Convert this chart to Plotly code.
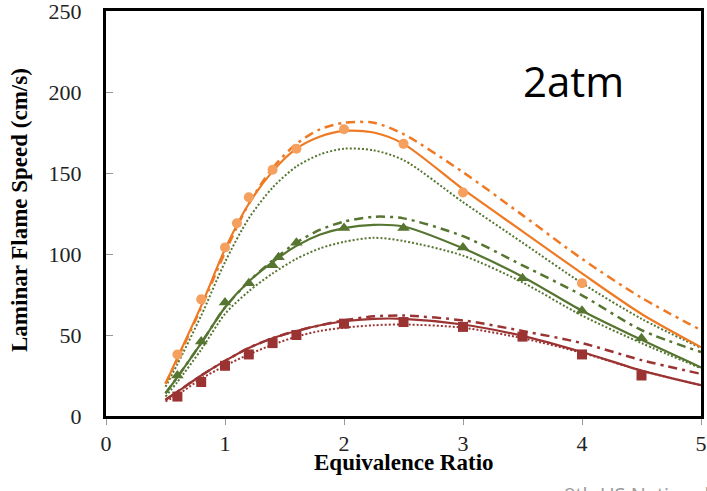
import plotly.graph_objects as go

# Equivalence ratio grid for the model curves
phi = [0.5, 0.6, 0.8, 1.0, 1.2, 1.4, 1.6, 1.8, 2.0, 2.25, 2.5, 3.0, 3.5, 4.0, 4.5, 5.0]

# Model predictions (cm/s)
orange_solid = [20, 36, 68, 103, 131, 151, 165, 172.5, 176, 175, 168, 140, 114, 88, 63, 42.5]
orange_dashdot = [20, 35, 67, 101, 131, 153, 168, 177, 181, 181, 174, 150.5, 124, 97, 73, 53]
green_dot_upper = [18, 32, 62, 95, 122, 141, 154, 161.5, 165, 164, 158, 132, 107, 82, 60, 42]

green_solid = [14, 24, 45, 67, 83, 95, 105, 112, 116, 118, 117, 103.5, 86, 65, 47, 30]
green_dashdot = [14, 24, 45, 67, 83, 96, 107, 115, 120, 123, 122, 111, 93, 74.5, 53, 39.5]
green_dot_lower = [12, 21, 41, 63, 77, 88, 97, 103.5, 107.5, 110, 108, 99, 82.5, 62, 45, 29.5]

red_solid = [10, 15, 25, 34, 42, 48, 52.5, 56, 58.5, 60, 60, 56.5, 49.5, 39.5, 28, 19]
red_dashdot = [10, 15, 25, 34, 42, 48, 52.5, 56, 59, 61.5, 62, 59, 52.5, 45, 34.5, 26]
red_dot = [9, 13, 23, 31, 38, 44, 49, 52.5, 54.5, 56, 56.5, 54.5, 48, 39, 28, 19]

# Measurements
orange_x = [0.6, 0.8, 1.0, 1.1, 1.2, 1.4, 1.6, 2.0, 2.5, 3.0, 4.0]
orange_y = [38, 72, 104, 119, 135, 152, 165, 177, 168, 138, 82]
green_x = [0.6, 0.8, 1.0, 1.2, 1.4, 1.45, 1.6, 2.0, 2.5, 3.0, 3.5, 4.0, 4.5]
green_y = [25, 46, 70, 82, 93, 98, 107, 116, 116, 104, 85, 65, 48]
red_x = [0.6, 0.8, 1.0, 1.2, 1.4, 1.6, 2.0, 2.5, 3.0, 3.5, 4.0, 4.5]
red_y = [12, 21, 31, 38, 45, 50, 57, 58, 55, 49, 38, 25]

x_ticks = [0, 1, 2, 3, 4, 5]
y_ticks = [0, 50, 100, 150, 200, 250]

ORANGE = "#EE7A24"
ORANGE_MK = "#F5A05E"
GREEN = "#567530"
RED = "#9B3333"

DASHDOT = "9px,5px,3px,5px"
DOTTED = "2px,2px"

fig = go.Figure()


def curve(y, color, dash, width):
    fig.add_trace(go.Scatter(
        x=phi, y=y, mode="lines",
        line=dict(color=color, dash=dash, width=width, shape="spline", smoothing=0.8),
        showlegend=False, hoverinfo="skip",
    ))


curve(green_dot_upper, GREEN, DOTTED, 2)
curve(orange_dashdot, ORANGE, DASHDOT, 2.5)
curve(orange_solid, ORANGE, "solid", 2.2)

curve(green_dot_lower, GREEN, DOTTED, 2)
curve(green_dashdot, GREEN, DASHDOT, 2.5)
curve(green_solid, GREEN, "solid", 2.2)

curve(red_dot, RED, DOTTED, 2)
curve(red_dashdot, RED, DASHDOT, 2.5)
curve(red_solid, RED, "solid", 2.2)

fig.add_trace(go.Scatter(x=orange_x, y=orange_y, mode="markers",
                         marker=dict(symbol="circle", size=10, color=ORANGE_MK),
                         showlegend=False))
fig.add_trace(go.Scatter(x=green_x, y=green_y, mode="markers",
                         marker=dict(symbol="triangle-up", size=11, color=GREEN),
                         showlegend=False))
fig.add_trace(go.Scatter(x=red_x, y=red_y, mode="markers",
                         marker=dict(symbol="square", size=10, color=RED),
                         showlegend=False))

serif = "Liberation Serif, Times New Roman, serif"

# plot box in pixels: left 106, right 701, top 11, bottom 416
PX_L, PX_R, PX_T, PX_B = 106, 701, 11, 416


def px(xp):
    return (xp - PX_L) / (PX_R - PX_L)


def py(yp):
    return (PX_B - yp) / (PX_B - PX_T)


fig.update_layout(
    width=707, height=491,
    margin=dict(l=PX_L, r=707 - PX_R, t=PX_T, b=491 - PX_B),
    paper_bgcolor="white", plot_bgcolor="white",
    showlegend=False,
    xaxis=dict(
        range=[0, 5], tickvals=x_ticks, ticktext=[str(v) for v in x_ticks],
        showgrid=False, zeroline=False, automargin=False,
        showline=True, linecolor="black", linewidth=3, mirror=True,
        ticks="outside", ticklen=6, tickcolor="#999999", tickwidth=1,
        tickfont=dict(family=serif, size=22, color="#222222"),
        ticklabelstandoff=0, ticklabeloverflow="allow",
    ),
    yaxis=dict(
        range=[0, 250], tickvals=y_ticks, ticktext=[str(v) for v in y_ticks],
        showgrid=False, zeroline=False, automargin=False,
        showline=True, linecolor="black", linewidth=3, mirror=True,
        ticks="inside", ticklen=7, tickcolor="#999999", tickwidth=1,
        tickfont=dict(family=serif, size=22, color="#222222"),
        ticklabelstandoff=17, ticklabeloverflow="allow",
    ),
    annotations=[
        dict(text="<b>Equivalence Ratio</b>", xref="paper", yref="paper",
             x=px(404), y=py(462), xanchor="center", yanchor="middle",
             showarrow=False,
             font=dict(family=serif, size=23, color="black")),
        dict(text="<b>Laminar Flame Speed (cm/s)</b>", xref="paper", yref="paper",
             x=px(19), y=py(210), xanchor="center", yanchor="middle",
             textangle=-90, showarrow=False,
             font=dict(family=serif, size=23, color="black")),
        dict(text="2atm", xref="paper", yref="paper",
             x=px(573), y=py(80),
             xanchor="center", yanchor="middle", showarrow=False,
             font=dict(family="Open Sans, sans-serif", size=42, color="black")),
        dict(text="8th US National Combustion Meeting", xref="paper", yref="paper",
             x=px(562), y=py(479),
             xanchor="left", yanchor="top", showarrow=False,
             font=dict(family="Open Sans, sans-serif", size=20, color="#9a9a9a")),
    ],
)

fig.write_html("out.html")
